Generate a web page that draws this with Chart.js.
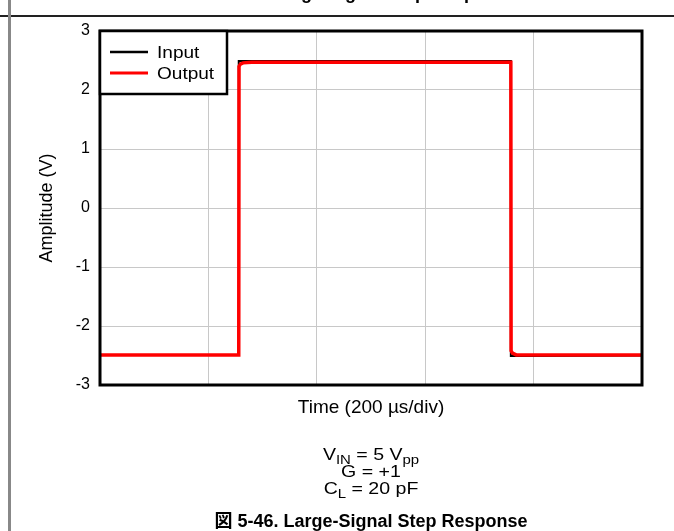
<!DOCTYPE html>
<html>
<head>
<meta charset="utf-8">
<script src="https://cdn.jsdelivr.net/npm/chart.js@4.4.1/dist/chart.umd.min.js"></script>
<style>
html,body{margin:0;padding:0;background:#fff;}
canvas{display:block;}
</style>
</head>
<body>
<canvas id="c" width="674" height="531"></canvas>
<script>
// ---- data (time in µs, amplitude in V) ----
const inputTime = [0, 256, 256, 758, 758, 1000];
const inputVolts = [-2.49, -2.49, 2.49, 2.49, -2.51, -2.5];
const outputTime = [0, 256, 256.5, 259, 264, 280, 758, 758.5, 761, 768, 1000];
const outputVolts = [-2.49, -2.49, 2.40, 2.44, 2.46, 2.47, 2.47, -2.42, -2.46, -2.49, -2.49];
const yTicks = [-3, -2, -1, 0, 1, 2, 3];
const xMin = 0, xMax = 1000, xStep = 200;
const seriesNames = ['Input', 'Output'];
const seriesColors = ['#000000', '#ff0000'];
const yTitle = 'Amplitude (V)';
const xTitle = 'Time (200 µs/div)';
const topTitle = 'Large-Signal Step Response';
const caption = '図 5-46. Large-Signal Step Response';
const conditions = [
  [['V', 0], ['IN', 1], [' = 5 V', 0], ['pp', 1]],
  [['G = +1', 0]],
  [['C', 0], ['L', 1], [' = 20 pF', 0]]
];

const FONT = '"Liberation Sans", Arial, "Noto Sans CJK JP", sans-serif';

function toPoints(xs, ys) { return xs.map((x, i) => ({x: x, y: ys[i]})); }

const frame = {
  id: 'frame',
  afterDatasetsDraw(chart) {
    const ctx = chart.ctx;
    const a = chart.chartArea;
    ctx.save();
    ctx.strokeStyle = '#000';
    ctx.lineWidth = 3;
    ctx.strokeRect(a.left, a.top, a.right - a.left, a.bottom - a.top);
    // legend box
    const lx = a.left, ly = a.top, lw = 127, lh = 63;
    ctx.fillStyle = '#fff';
    ctx.fillRect(lx, ly, lw, lh);
    ctx.lineWidth = 2.5;
    ctx.strokeRect(lx, ly, lw, lh);
    ctx.textBaseline = 'middle';
    ctx.textAlign = 'left';
    chart.data.datasets.forEach((ds, i) => {
      const yy = ly + 21 + i * 21;
      ctx.strokeStyle = ds.borderColor;
      ctx.lineWidth = i === 0 ? 2.5 : 3;
      ctx.beginPath();
      ctx.moveTo(lx + 10, yy);
      ctx.lineTo(lx + 48, yy);
      ctx.stroke();
      ctx.fillStyle = '#000';
      ctx.save();
      ctx.translate(lx + 57, yy);
      ctx.scale(1.12, 1);
      ctx.font = '17px ' + FONT;
      ctx.fillText(ds.label, 0, 1);
      ctx.restore();
    });
    ctx.restore();
  },
  afterDraw(chart) {
    const ctx = chart.ctx;
    ctx.save();
    ctx.strokeStyle = '#222';
    ctx.lineWidth = 2;
    ctx.beginPath(); ctx.moveTo(0, 16); ctx.lineTo(674, 16); ctx.stroke();
    ctx.strokeStyle = '#888';
    ctx.lineWidth = 3;
    ctx.beginPath(); ctx.moveTo(9.5, 0); ctx.lineTo(9.5, 531); ctx.stroke();
    ctx.fillStyle = '#000';
    ctx.font = 'bold 18px ' + FONT;
    ctx.textAlign = 'center';
    ctx.textBaseline = 'alphabetic';
    ctx.fillText(topTitle, 395, -1);
    // conditions
    const cx = 371, sx = 1.15;
    const ys = [455, 472, 489];
    conditions.forEach((parts, li) => {
      let w = 0;
      parts.forEach(p => { ctx.font = (p[1] ? '13px ' : '17px ') + FONT; w += ctx.measureText(p[0]).width; });
      ctx.save();
      ctx.translate(cx - w * sx / 2, ys[li]);
      ctx.scale(sx, 1);
      let x = 0;
      ctx.textAlign = 'left';
      ctx.textBaseline = 'middle';
      parts.forEach(p => {
        ctx.font = (p[1] ? '13px ' : '17px ') + FONT;
        ctx.fillText(p[0], x, (p[1] ? 5 : 0));
        x += ctx.measureText(p[0]).width;
      });
      ctx.restore();
    });
    ctx.font = 'bold 18px ' + FONT;
    ctx.textAlign = 'center';
    ctx.textBaseline = 'middle';
    ctx.fillText(caption, 371, 522);
    ctx.restore();
  }
};

new Chart(document.getElementById('c'), {
  type: 'line',
  data: {
    datasets: [
      { label: seriesNames[0], data: toPoints(inputTime, inputVolts), borderColor: seriesColors[0], borderWidth: 2, pointRadius: 0, tension: 0, fill: false, order: 2 },
      { label: seriesNames[1], data: toPoints(outputTime, outputVolts), borderColor: seriesColors[1], borderWidth: 3.5, pointRadius: 0, tension: 0, fill: false, order: 1 }
    ]
  },
  options: {
    responsive: false,
    animation: false,
    events: [],
    layout: { padding: { left: 32, top: 31, right: 32, bottom: 110 } },
    plugins: { legend: { display: false }, tooltip: { enabled: false }, title: { display: false } },
    scales: {
      x: {
        type: 'linear', min: xMin, max: xMax,
        ticks: { display: false, stepSize: xStep },
        grid: { color: '#c8c8c8', lineWidth: 1, drawTicks: false },
        border: { display: false },
        title: { display: true, text: xTitle, color: '#000', font: { size: 19, family: FONT }, padding: { top: 0, bottom: 2 } },
        afterFit(s) { s.height = 36; }
      },
      y: {
        type: 'linear', min: -3, max: 3,
        afterBuildTicks(s) { s.ticks = yTicks.map(v => ({ value: v })); },
        ticks: { color: '#000', font: { size: 16, family: FONT }, padding: 10 },
        grid: { color: '#c8c8c8', lineWidth: 1, drawTicks: false },
        border: { display: false },
        title: { display: true, text: yTitle, color: '#000', font: { size: 18, family: FONT }, padding: { top: 4, bottom: 0 } },
        afterFit(s) { s.width = 68; }
      }
    }
  },
  plugins: [frame]
});
</script>
</body>
</html>
